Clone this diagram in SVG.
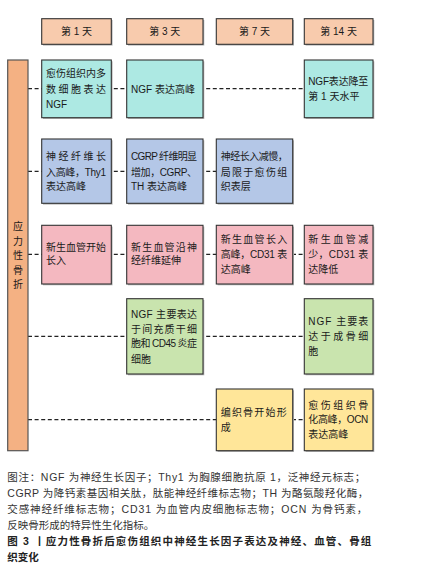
<svg xmlns="http://www.w3.org/2000/svg" width="423" height="582" viewBox="0 0 423 582">
<style>
text{font-family:"Liberation Sans","Noto Sans CJK SC",sans-serif;font-size:10px;fill:#1a1a1a}
.hd{fill:#F8CBAD}
.box{stroke:#333;stroke-width:1.1}
.sh{fill:#b5b5b5}
.cy{fill:#ADE9E3}
.bl{fill:#B4C7E7}
.pk{fill:#F4B8C0}
.gr{fill:#C9E4AE}
.yl{fill:#FFE699}
.dash{stroke:#222;stroke-width:1.2;stroke-dasharray:4 2.6;fill:none}
.cap{font-size:10.5px;fill:#333}
.capb{font-size:10.5px;font-weight:bold;fill:#222}
.ctr{text-anchor:middle}
</style>
<g id="connectors">
<line class="dash" x1="28" y1="88.7" x2="304.3" y2="88.7"/>
<line class="dash" x1="28" y1="171.3" x2="216.3" y2="171.3"/>
<line class="dash" x1="28" y1="254.3" x2="304.3" y2="254.3"/>
<line class="dash" x1="28" y1="336.3" x2="304.3" y2="336.3"/>
<line class="dash" x1="28" y1="419.7" x2="304.3" y2="419.7"/>
</g>
<g id="h1"><rect class="sh" x="43" y="20" width="69.6" height="25.6"/><rect class="box hd" x="41.7" y="18.7" width="69.6" height="25.6"/><text class="ctr" x="76.5" y="35">第 1 天</text></g>
<g id="h3"><rect class="sh" x="128" y="20" width="76.3" height="25.6"/><rect class="box hd" x="126.7" y="18.7" width="76.3" height="25.6"/><text class="ctr" x="164.8" y="35">第 3 天</text></g>
<g id="h7"><rect class="sh" x="217.6" y="20" width="76.4" height="25.6"/><rect class="box hd" x="216.3" y="18.7" width="76.4" height="25.6"/><text class="ctr" x="254.5" y="35">第 7 天</text></g>
<g id="h14"><rect class="sh" x="305.6" y="20" width="68.7" height="25.6"/><rect class="box hd" x="304.3" y="18.7" width="68.7" height="25.6"/><text class="ctr" x="338.6" y="35">第 14 天</text></g>
<g id="side"><rect x="7.7" y="60" width="20.3" height="390.7" fill="#F4B183" stroke="#555" stroke-width="1.2"/>
<text class="ctr" x="17.9" y="230.2">应</text><text class="ctr" x="17.9" y="244.7">力</text><text class="ctr" x="17.9" y="259.2">性</text><text class="ctr" x="17.9" y="273.7">骨</text><text class="ctr" x="17.9" y="288.2">折</text></g>
<g id="r1c1"><rect class="sh" x="43" y="61.3" width="69.6" height="57.7"/><rect class="box cy" x="41.7" y="60" width="69.6" height="57.7"/>
<text x="46" y="77.4" textLength="60" lengthAdjust="spacing">愈伤组织内多</text><text x="46" y="92.8" textLength="60" lengthAdjust="spacing">数细胞表达</text><text x="46" y="107.6">NGF</text></g>
<g id="r1c2"><rect class="sh" x="128" y="61.3" width="76.3" height="57.7"/><rect class="box cy" x="126.7" y="60" width="76.3" height="57.7"/>
<text x="131" y="92.5">NGF 表达高峰</text></g>
<g id="r1c4"><rect class="sh" x="305.6" y="61.3" width="68.7" height="57.7"/><rect class="box cy" x="304.3" y="60" width="68.7" height="57.7"/>
<text x="308.3" y="85.2" textLength="60" lengthAdjust="spacing">NGF表达降至</text><text x="308.3" y="100.2">第 1 天水平</text></g>
<g id="r2c1"><rect class="sh" x="43" y="140.3" width="69.6" height="64.3"/><rect class="box bl" x="41.7" y="139" width="69.6" height="64.3"/>
<text x="46" y="160.2" textLength="60" lengthAdjust="spacing">神经纤维长</text><text x="46" y="175.5" textLength="60" lengthAdjust="spacing">入高峰，Thy1</text><text x="46" y="190.2">表达高峰</text></g>
<g id="r2c2"><rect class="sh" x="128" y="140.3" width="76.3" height="64.3"/><rect class="box bl" x="126.7" y="139" width="76.3" height="64.3"/>
<text x="131" y="160.2" textLength="66" lengthAdjust="spacing">CGRP 纤维明显</text><text x="131" y="175.5" textLength="66" lengthAdjust="spacing">增加，CGRP、</text><text x="131" y="190.2">TH 表达高峰</text></g>
<g id="r2c3"><rect class="sh" x="217.6" y="140.3" width="76.4" height="64.3"/><rect class="box bl" x="216.3" y="139" width="76.4" height="64.3"/>
<text x="220.7" y="160.2" textLength="67" lengthAdjust="spacing">神经长入减慢，</text><text x="220.7" y="175.5" textLength="66.5" lengthAdjust="spacing">局限于愈伤组</text><text x="220.7" y="190.2">织表层</text></g>
<g id="r3c1"><rect class="sh" x="43" y="226.6" width="69.6" height="58.7"/><rect class="box pk" x="41.7" y="225.3" width="69.6" height="58.7"/>
<text x="46" y="250.8" textLength="60" lengthAdjust="spacing">新生血管开始</text><text x="46" y="264.2">长入</text></g>
<g id="r3c2"><rect class="sh" x="128" y="226.6" width="76.3" height="58.7"/><rect class="box pk" x="126.7" y="225.3" width="76.3" height="58.7"/>
<text x="131" y="250.8" textLength="66" lengthAdjust="spacing">新生血管沿神</text><text x="131" y="264.2">经纤维延伸</text></g>
<g id="r3c3"><rect class="sh" x="217.6" y="226.6" width="76.4" height="58.7"/><rect class="box pk" x="216.3" y="225.3" width="76.4" height="58.7"/>
<text x="220.7" y="242.5" textLength="66.5" lengthAdjust="spacing">新生血管长入</text><text x="220.7" y="257.8" textLength="66.5" lengthAdjust="spacing">高峰，CD31 表</text><text x="220.7" y="272.5">达高峰</text></g>
<g id="r3c4"><rect class="sh" x="305.6" y="226.6" width="68.7" height="58.7"/><rect class="box pk" x="304.3" y="225.3" width="68.7" height="58.7"/>
<text x="308.3" y="242.5" textLength="60" lengthAdjust="spacing">新生血管减</text><text x="308.3" y="257.8" textLength="60" lengthAdjust="spacing">少，CD31 表</text><text x="308.3" y="272.5">达降低</text></g>
<g id="r4c2"><rect class="sh" x="128" y="300" width="76.3" height="75.3"/><rect class="box gr" x="126.7" y="298.7" width="76.3" height="75.3"/>
<text x="131" y="317.8" textLength="66" lengthAdjust="spacing">NGF 主要表达</text><text x="131" y="333.2" textLength="66" lengthAdjust="spacing">于间充质干细</text><text x="131" y="347.2" textLength="66" lengthAdjust="spacing">胞和 CD45 炎症</text><text x="131" y="362.5">细胞</text></g>
<g id="r4c4"><rect class="sh" x="305.6" y="300" width="68.7" height="75.3"/><rect class="box gr" x="304.3" y="298.7" width="68.7" height="75.3"/>
<text x="308.3" y="325.2" textLength="60" lengthAdjust="spacing">NGF 主要表</text><text x="308.3" y="340.2" textLength="60" lengthAdjust="spacing">达于成骨细</text><text x="308.3" y="355.2">胞</text></g>
<g id="r5c3"><rect class="sh" x="217.6" y="390.3" width="76.4" height="61.7"/><rect class="box yl" x="216.3" y="389" width="76.4" height="61.7"/>
<text x="220.7" y="415.8" textLength="66" lengthAdjust="spacing">编织骨开始形</text><text x="220.7" y="430.8">成</text></g>
<g id="r5c4"><rect class="sh" x="305.6" y="390.3" width="68.7" height="61.7"/><rect class="box yl" x="304.3" y="389" width="68.7" height="61.7"/>
<text x="308.3" y="408.5" textLength="60" lengthAdjust="spacing">愈伤组织骨</text><text x="308.3" y="423.2" textLength="60" lengthAdjust="spacing">化高峰，OCN</text><text x="308.3" y="438.2">表达高峰</text></g>
<g id="caption">
<text class="cap" x="7.3" y="481" textLength="358" lengthAdjust="spacing">图注：NGF 为神经生长因子；Thy1 为胸腺细胞抗原 1，泛神经元标志；</text>
<text class="cap" x="7.3" y="497" textLength="361" lengthAdjust="spacing">CGRP 为降钙素基因相关肽，肽能神经纤维标志物；TH 为酪氨酸羟化酶，</text>
<text class="cap" x="7.3" y="513" textLength="360" lengthAdjust="spacing">交感神经纤维标志物；CD31 为血管内皮细胞标志物；OCN 为骨钙素，</text>
<text class="cap" x="7.3" y="529">反映骨形成的特异性生化指标。</text>
<text class="capb" x="7.3" y="544.7" textLength="364" lengthAdjust="spacing">图 3 丨应力性骨折后愈伤组织中神经生长因子表达及神经、血管、骨组</text>
<text class="capb" x="7.3" y="561">织变化</text>
</g>
</svg>
